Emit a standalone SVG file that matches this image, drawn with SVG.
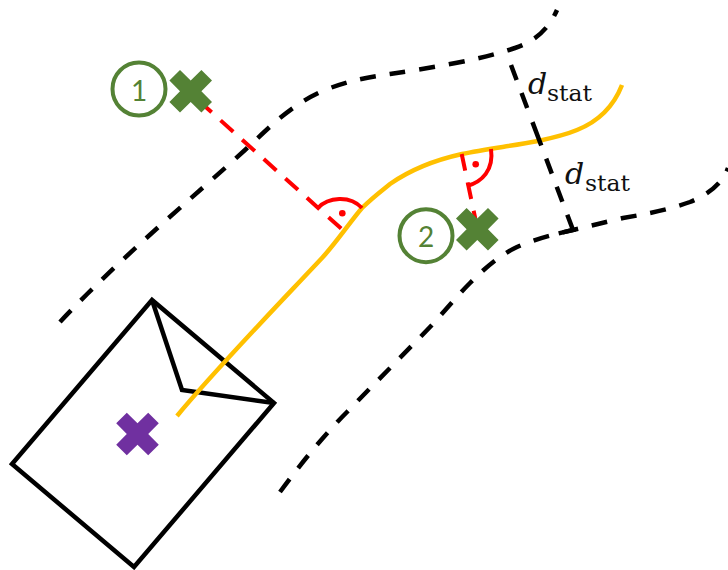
<svg xmlns="http://www.w3.org/2000/svg" width="728" height="570" viewBox="0 0 728 570">
<style>
.bd{fill:none;stroke:#000;stroke-width:4.5;stroke-dasharray:16 14}
.rd{fill:none;stroke:#f00;stroke-width:4;stroke-dasharray:17 12}
.r{fill:none;stroke:#f00;stroke-width:4}
.env{fill:none;stroke:#000;stroke-width:4.5;stroke-linejoin:miter}
.gx{fill:#548235}
.c{fill:#fff;stroke:#548235;stroke-width:4}
.n{font-family:Lato,"Noto Sans",sans-serif;font-size:28px;fill:#548235;text-anchor:middle}
.d{font-family:"DejaVu Serif",serif;font-style:italic;font-size:30px;fill:#111}
.s{font-family:"DejaVu Serif",serif;font-size:23px;fill:#111}
</style>
<defs>
<polygon id="x" points="0,-10.7 10.7,-21.3 21.3,-10.7 10.7,0 21.3,10.7 10.7,21.3 0,10.7 -10.7,21.3 -21.3,10.7 -10.7,0 -21.3,-10.7 -10.7,-21.3"/>
</defs>
<g id="envelope">
<polygon class="env" points="152,300 12,464 134,567 274,403"/>
<polyline class="env" points="152,300 182,390 274,403"/>
</g>
<g id="connectors">
<path id="trajectory" d="M177 416 C215 370 275 308 322 258 C336 243 350 222 362 208 C372 198 380 192 390 184 C410 170 435 160 462 154 C485 149 512 146 538 141 C552 138 565 135 577 130 C597 122 613 108 622 85" fill="none" stroke="#FFC000" stroke-width="4.5"/>
<path id="boundary-top" class="bd" d="M60 322 C120 258 190 200 245 150 C270 127 290 105 325 90 C350 80 370 77 390 74 C430 68 480 60 515 48 C535 41 548 30 557 10"/>
<path id="boundary-bottom" class="bd" d="M280 492 C302 462 325 434 347 412 C375 383 403 355 430 327 C445 311 457 296 470 283 C485 268 500 255 517 247 C535 239 555 234 573 230 C590 226 606 222 623 218 C640 215 665 211 690 202 C705 196 722 185 728 168"/>
<polyline id="width" fill="none" stroke="#000" stroke-width="4.5" stroke-dasharray="16 14 16 15 25 14 16 14 16 14 31" points="511,65 573,230 558,233.5"/>
<line id="perp-1" class="rd" x1="199" y1="101" x2="345" y2="232"/>
<path id="angle-1" class="r" d="M318 208 C328 197 350 195 362 208"/>
<circle cx="342.3" cy="213.3" r="3.3" fill="#f00"/>
<line id="perp-2" class="rd" x1="461.7" y1="154" x2="476" y2="222"/>
<path id="angle-2" class="r" d="M467 186 C482 182 494 170 491 149"/>
<circle cx="475.7" cy="164.3" r="3.3" fill="#f00"/>
</g>
<g id="point-target"><use href="#x" x="137.5" y="434" fill="#7030A0"/></g>
<g id="point-1">
<circle class="c" cx="139" cy="89" r="26.5"/>
<text class="n" x="139" y="100.5">1</text>
<use href="#x" class="gx" x="190.7" y="91.3"/>
</g>
<g id="point-2">
<circle class="c" cx="426" cy="235.7" r="26.5"/>
<text class="n" x="426" y="246.5">2</text>
<use href="#x" class="gx" x="477.3" y="229.3"/>
</g>
<g id="label-1"><text class="d" x="528" y="94">d</text><text class="s" x="547" y="100.7" textLength="45" lengthAdjust="spacingAndGlyphs">stat</text></g>
<g id="label-2"><text class="d" x="565" y="184">d</text><text class="s" x="585" y="190.7" textLength="45" lengthAdjust="spacingAndGlyphs">stat</text></g>
</svg>
